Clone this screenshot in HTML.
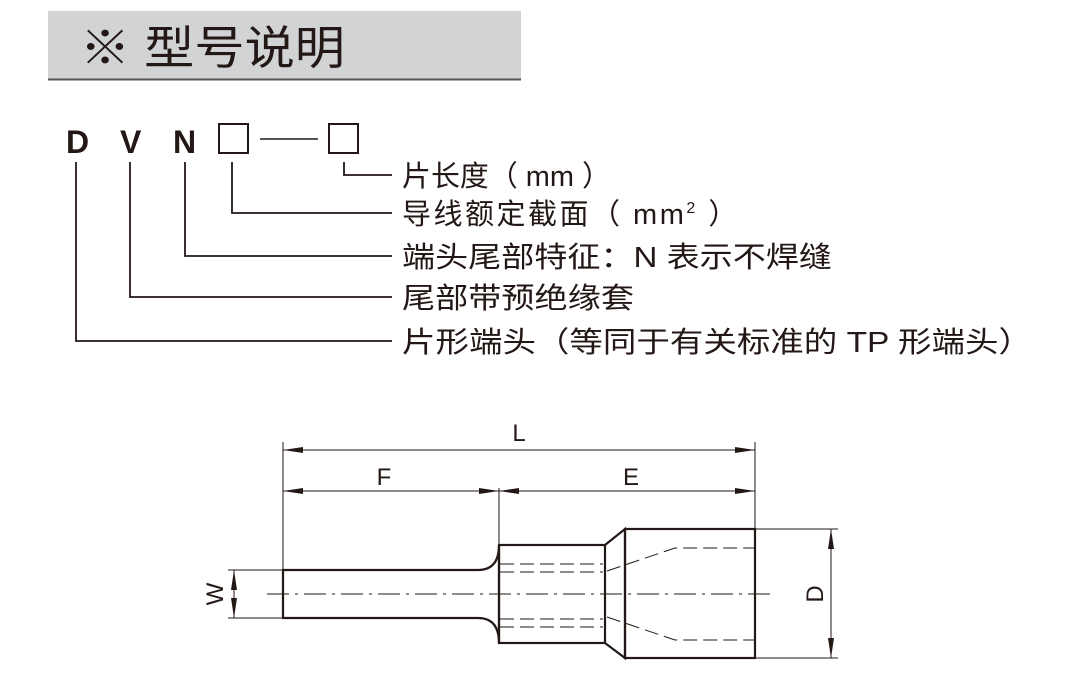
<!DOCTYPE html>
<html><head><meta charset="utf-8"><style>
body{margin:0;background:#fff;}
svg{display:block}
.t{font-family:"Liberation Sans","Noto Sans CJK SC",sans-serif;fill:#231815}
</style></head><body>
<svg width="1077" height="685" viewBox="0 0 1077 685" xmlns="http://www.w3.org/2000/svg">
<defs>
<marker id="a" viewBox="0 0 20 6" refX="20" refY="3" markerWidth="20" markerHeight="6" markerUnits="userSpaceOnUse" orient="auto-start-reverse"><path d="M0,0 L20,3 L0,6 Z" fill="#231815"/></marker>
</defs>
<rect x="48" y="11" width="473" height="68" fill="#d1d3d4"/>
<line x1="48" y1="79.5" x2="521" y2="79.5" stroke="#555" stroke-width="2"/>
<text class="t" x="80" y="64" font-size="46" font-weight="normal" textLength="265" lengthAdjust="spacingAndGlyphs">※ 型号说明</text>

<g class="t" font-size="32" font-weight="bold">
<text x="66" y="153">D</text><text x="120" y="153">V</text><text x="173" y="153">N</text>
</g>
<g fill="none" stroke="#231815" stroke-width="2">
<rect x="219" y="124" width="29" height="29"/>
<rect x="329" y="124" width="29" height="29"/>
<line x1="260" y1="139" x2="318" y2="139" stroke-width="1.5"/>
</g>
<g fill="none" stroke="#231815" stroke-width="1.8">
<polyline points="344,162 344,175 392,175"/>
<polyline points="232,162 232,213 392,213"/>
<polyline points="185,162 185,256 392,256"/>
<polyline points="130,162 130,297 392,297"/>
<polyline points="76,162 76,341 392,341"/>
</g>
<g class="t" font-size="29">
<text x="402" y="186" textLength="209" lengthAdjust="spacingAndGlyphs">片长度（ mm ）</text>
<text x="402" y="224" letter-spacing="2.5">导线额定截面（ mm<tspan font-size="16" dy="-11">2</tspan><tspan dy="11"> ）</tspan></text>
<text x="402" y="267" textLength="430" lengthAdjust="spacingAndGlyphs">端头尾部特征：N 表示不焊缝</text>
<text x="402" y="308" textLength="232" lengthAdjust="spacingAndGlyphs">尾部带预绝缘套</text>
<text x="402" y="352" textLength="630" lengthAdjust="spacingAndGlyphs">片形端头（等同于有关标准的 TP 形端头）</text>
</g>

<g stroke="#231815" stroke-width="1" fill="none">
<line x1="283" y1="442" x2="283" y2="570"/>
<line x1="755" y1="442" x2="755" y2="529"/>
<line x1="499" y1="488" x2="499" y2="545"/>
<line x1="283" y1="450" x2="755" y2="450" marker-start="url(#a)" marker-end="url(#a)"/>
<line x1="283" y1="491" x2="499" y2="491" marker-start="url(#a)" marker-end="url(#a)"/>
<line x1="499" y1="491" x2="755" y2="491" marker-start="url(#a)" marker-end="url(#a)"/>
<line x1="228" y1="570" x2="283" y2="570"/>
<line x1="228" y1="618" x2="283" y2="618"/>
<line x1="234" y1="570" x2="234" y2="618" marker-start="url(#a)" marker-end="url(#a)"/>
<line x1="755" y1="529" x2="838" y2="529"/>
<line x1="755" y1="658" x2="838" y2="658"/>
<line x1="831" y1="529" x2="831" y2="658" marker-start="url(#a)" marker-end="url(#a)"/>
</g>
<g class="t" font-size="24">
<text x="519" y="441" text-anchor="middle">L</text>
<text x="384" y="485" text-anchor="middle">F</text>
<text x="631" y="485" text-anchor="middle">E</text>
<text transform="translate(223,594) rotate(-90)" text-anchor="middle">W</text>
<text transform="translate(823,594) rotate(-90)" text-anchor="middle">D</text>
</g>

<g stroke="#231815" stroke-width="2.2" fill="none">
<path d="M499,545 Q499,570 478,570 L283,570 L283,618 L478,618 Q499,618 499,643 Z"/>
<rect x="499" y="545" width="106" height="98"/>
<path d="M605,545 L625,529 L625,658 L605,643"/>
<rect x="625" y="529" width="130" height="129"/>
</g>
<g stroke="#231815" stroke-width="1" fill="none" stroke-dasharray="14,6">
<line x1="500" y1="564" x2="603" y2="564"/>
<line x1="500" y1="572" x2="603" y2="572"/>
<line x1="500" y1="619" x2="603" y2="619"/>
<line x1="500" y1="627" x2="603" y2="627"/>
<path d="M607,571 L675,548 L755,548"/>
<path d="M607,617 L675,640 L755,640"/>
<line x1="267" y1="594" x2="772" y2="594" stroke-dasharray="22,6,3,6"/>
</g>
</svg>
</body></html>
